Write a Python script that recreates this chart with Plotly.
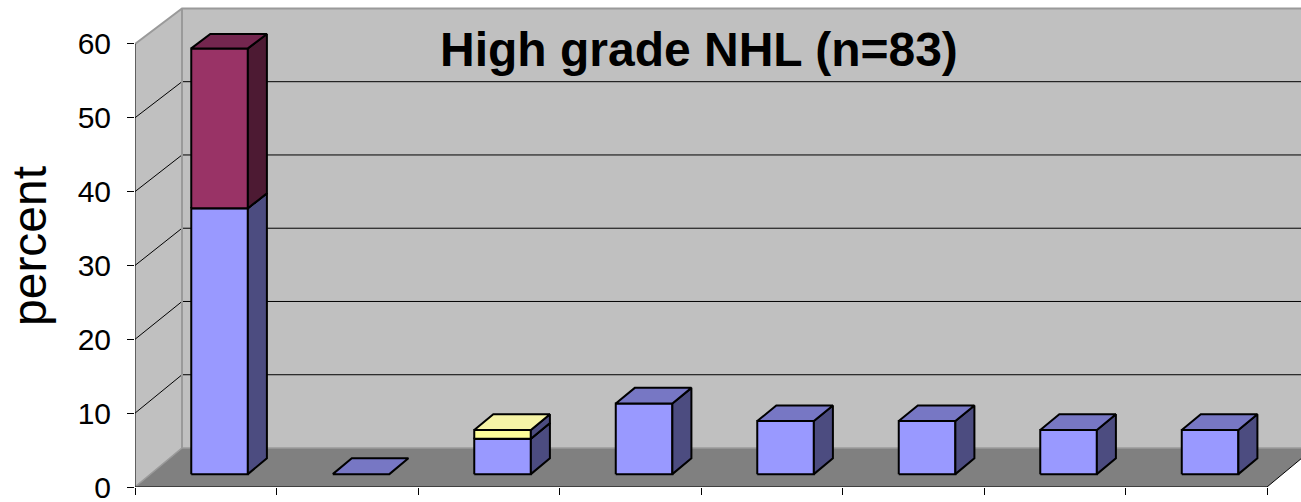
import plotly.graph_objects as go

# ---- data (percent of n=83) ----
categories = ["1", "2", "3", "4", "5", "6", "7", "8"]
series_names = ["series 1", "series 2", "series 3"]
series_blue = [36.1, 0.0, 4.8, 9.6, 7.2, 7.2, 6.0, 6.0]
series_red = [21.7, 0.0, 0.0, 0.0, 0.0, 0.0, 0.0, 0.0]
series_yellow = [0.0, 0.0, 1.2, 0.0, 0.0, 0.0, 0.0, 0.0]
y_ticks = [0, 10, 20, 30, 40, 50, 60]
title_text = "High grade NHL (n=83)"
y_title = "percent"

# ---- styling / view ----
W, H = 1301, 502
ML, MR, MT, MB = 135, 0, 0, 15
PX_PER_CAT = 141.5
PX_PER_VAL = 7.385
DX = 47 / PX_PER_CAT          # depth offset in category units
DY = 39 / PX_PER_VAL          # depth offset in value units
SHRINK = 0.008                # slight perspective shrink with depth
D0, D1 = 0.33, 0.735          # bar depth extent
HALF_W = 0.2
CENTER = 0.488
NCAT = len(categories)
VMAX = y_ticks[-1]
XR = (W - ML - MR) / PX_PER_CAT
YR = (H - MT - MB) / PX_PER_VAL

series = [
    (series_blue, "#9999FF", "#7777C4", "#4C4C80"),
    (series_red, "#993366", "#74264F", "#4D1A33"),
    (series_yellow, "#FFFF99", "#F6F4A6", "#4C4C80"),
]


def proj(u, v, d):
    return u + d * DX, v * (1 - SHRINK * d) + d * DY


def poly(pts):
    xs, ys = [], []
    for (u, v, d) in pts:
        x, y = proj(u, v, d)
        xs.append(x)
        ys.append(y)
    xs.append(xs[0])
    ys.append(ys[0])
    return xs, ys


fig = go.Figure()


def add_poly(pts, fill, line_color=None, lw=0):
    xs, ys = poly(pts)
    fig.add_trace(go.Scatter(
        x=xs, y=ys, mode="lines", fill="toself", fillcolor=fill,
        line=dict(color=line_color or fill, width=lw),
        hoverinfo="skip", showlegend=False))


def add_line(pts, color, lw):
    xs, ys = [], []
    for p in pts:
        x, y = proj(*p)
        xs.append(x)
        ys.append(y)
    fig.add_trace(go.Scatter(
        x=xs, y=ys, mode="lines", line=dict(color=color, width=lw),
        hoverinfo="skip", showlegend=False))


WALL = "#C0C0C0"
FLOOR = "#808080"
BORDER = "#9A9A9A"

# back wall
add_poly([(0, 0, 1), (NCAT, 0, 1), (NCAT, VMAX, 1), (0, VMAX, 1)], WALL)
# left wall
add_poly([(0, 0, 0), (0, VMAX, 0), (0, VMAX, 1), (0, 0, 1)], WALL)
# floor
add_poly([(0, 0, 0), (NCAT, 0, 0), (NCAT, 0, 1), (0, 0, 1)], FLOOR)

# gridlines
for v in y_ticks[1:-1]:
    add_line([(0, v, 0), (0, v, 1), (NCAT, v, 1)], "#000000", 1)

# wall borders
add_line([(0, VMAX, 0), (0, VMAX, 1), (NCAT, VMAX, 1)], BORDER, 2)
add_line([(0, 0, 1), (0, VMAX, 1)], BORDER, 2)
add_line([(0, 0, 0), (0, 0, 1), (NCAT, 0, 1)], BORDER, 1.5)
# floor right edge
add_line([(NCAT, 0, 0), (NCAT, 0, 1)], "#000000", 1)
# axis lines
add_line([(0, 0, 0), (0, VMAX, 0)], "#000000", 1)
add_line([(0, 0, 0), (NCAT, 0, 0)], "#000000", 1)

# bars
for i in range(NCAT):
    uL = i + CENTER - HALF_W
    uR = i + CENTER + HALF_W
    base = 0.0
    drawn = False
    for vals, front, top, side in series:
        val = vals[i]
        if val <= 0:
            continue
        t = base + val
        add_poly([(uL, base, D0), (uR, base, D0), (uR, t, D0), (uL, t, D0)], front, "#000000", 2)
        add_poly([(uR, base, D0), (uR, base, D1), (uR, t, D1), (uR, t, D0)], side, "#000000", 2)
        add_poly([(uL, t, D0), (uR, t, D0), (uR, t, D1), (uL, t, D1)], top, "#000000", 2)
        base = t
        drawn = True
    if not drawn:
        _, _, top, _ = series[0]
        add_poly([(uL, 0, D0), (uR, 0, D0), (uR, 0, D1), (uL, 0, D1)], top, "#000000", 2)

FONT = "Liberation Sans, Arial, sans-serif"
plot_w = W - ML - MR
plot_h = H - MT - MB

fig.update_layout(
    template="none",
    width=W, height=H,
    margin=dict(l=ML, r=MR, t=MT, b=MB, pad=0),
    paper_bgcolor="white", plot_bgcolor="white",
    showlegend=False,
    xaxis=dict(range=[0, XR], tickvals=list(range(NCAT + 1)), ticks="outside",
               ticklen=7, tickcolor="black", tickwidth=1, showticklabels=False,
               showgrid=False, zeroline=False, showline=False, automargin=False,
               fixedrange=True),
    yaxis=dict(range=[0, YR], tickvals=y_ticks, ticks="outside", ticklen=7,
               tickcolor="black", tickwidth=1, showgrid=False, zeroline=False,
               showline=False, automargin=False, ticklabelstandoff=10,
               ticklabeloverflow="allow",
               tickfont=dict(family=FONT, size=30, color="black"),
               fixedrange=True),
    annotations=[
        dict(text="<b>" + title_text + "</b>", xref="paper", yref="paper",
             x=(698.5 - ML) / plot_w, y=(plot_h - 50) / plot_h,
             xanchor="center", yanchor="middle", showarrow=False,
             font=dict(family=FONT, size=48, color="black")),
        dict(text=y_title, xref="paper", yref="paper",
             x=(29 - ML) / plot_w, y=(plot_h - 246) / plot_h,
             xanchor="center", yanchor="middle", showarrow=False, textangle=-90,
             font=dict(family=FONT, size=48, color="black")),
    ],
)

fig.write_html(
    "out.html",
    config={"displayModeBar": False},
    post_script="document.body.style.margin='0';document.body.style.overflow='hidden';",
)
